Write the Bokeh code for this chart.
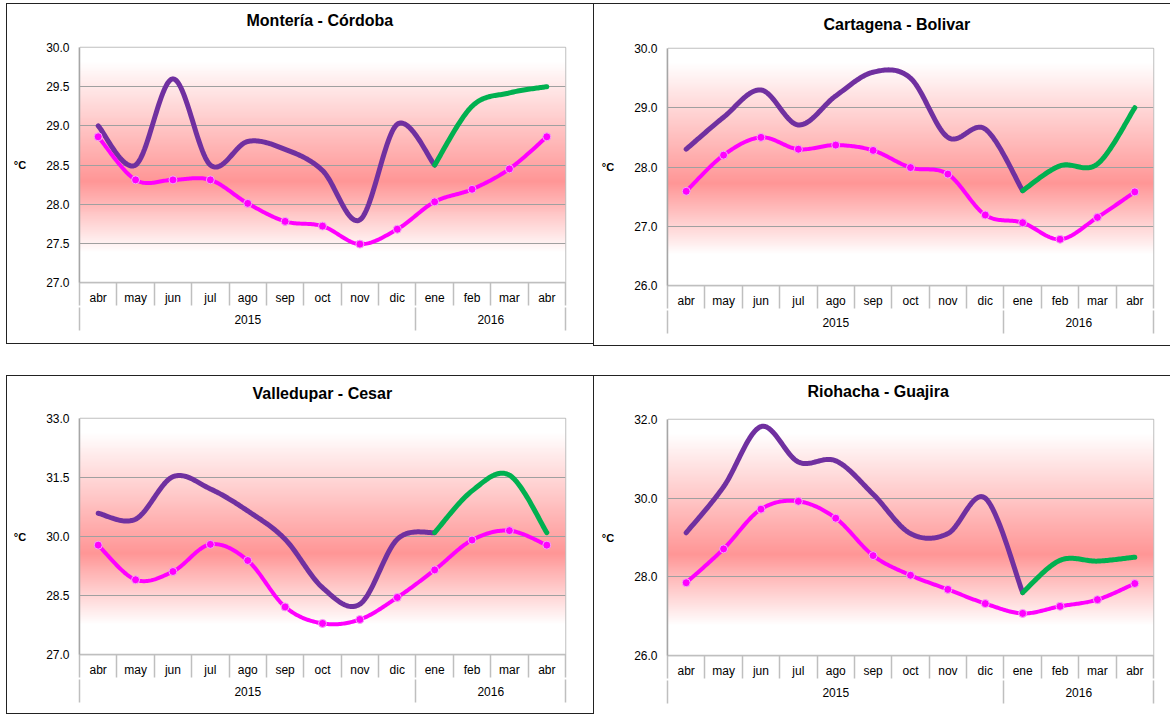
import numpy as np
from bokeh.plotting import figure
from bokeh.models import (Range1d, FixedTicker, LinearAxis, PrintfTickFormatter,
                          Spacer, Title)
from bokeh.layouts import row, column
from bokeh.embed import file_html
from bokeh.resources import INLINE

FONT = "Liberation Sans"

# ---------------- data ----------------
months = ["abr", "may", "jun", "jul", "ago", "sep", "oct", "nov", "dic",
          "ene", "feb", "mar", "abr"]
years = ["2015", "2016"]
year_sizes = [9, 4]

# Montería - Córdoba
monteria_max = [29.0, 28.5, 29.6, 28.5, 28.8, 28.7, 28.43, 27.8, 29.02, 28.5, 29.25, 29.42, 29.5]
monteria_mean = [28.86, 28.31, 28.31, 28.31, 28.01, 27.78, 27.72, 27.49, 27.68, 28.03, 28.19, 28.45, 28.86]
monteria_ticks = [27.0, 27.5, 28.0, 28.5, 29.0, 29.5, 30.0]

# Cartagena - Bolivar
cartagena_max = [28.3, 28.84, 29.3, 28.71, 29.2, 29.6, 29.5, 28.5, 28.64, 27.6, 28.02, 28.05, 29.0]
cartagena_mean = [27.59, 28.2, 28.5, 28.3, 28.37, 28.28, 27.99, 27.88, 27.19, 27.06, 26.78, 27.15, 27.58]
cartagena_ticks = [26.0, 27.0, 28.0, 29.0, 30.0]

# Valledupar - Cesar
valledupar_max = [30.59, 30.44, 31.52, 31.21, 30.65, 29.93, 28.7, 28.28, 29.93, 30.1, 31.16, 31.56, 30.1]
valledupar_mean = [29.78, 28.9, 29.11, 29.8, 29.39, 28.21, 27.79, 27.89, 28.45, 29.15, 29.91, 30.15, 29.78]
valledupar_ticks = [27.0, 28.5, 30.0, 31.5, 33.0]

# Riohacha - Guajira
riohacha_max = [29.12, 30.29, 31.82, 30.92, 30.95, 30.1, 29.1, 29.1, 30.0, 27.6, 28.42, 28.4, 28.5]
riohacha_mean = [27.85, 28.71, 29.72, 29.92, 29.49, 28.54, 28.04, 27.68, 27.32, 27.07, 27.25, 27.42, 27.83]
riohacha_ticks = [26.0, 28.0, 30.0, 32.0]

PURPLE = "#7030A0"
GREEN = "#00B050"
MAGENTA = "#FF00FF"
BORDER = "#222222"


def smooth(xv, yv, n=30):
    """Excel-like smoothed line (Catmull-Rom Bezier) through the points."""
    x = np.asarray(xv, float)
    y = np.asarray(yv, float)
    px = np.concatenate([[x[0]], x, [x[-1]]])
    py = np.concatenate([[y[0]], y, [y[-1]]])
    t = np.linspace(0, 1, n)
    ox, oy = [], []
    for i in range(len(x) - 1):
        x0, x1, x2, x3 = px[i:i + 4]
        y0, y1, y2, y3 = py[i:i + 4]
        c1x, c1y = x1 + (x2 - x0) / 6, y1 + (y2 - y0) / 6
        c2x, c2y = x2 - (x3 - x1) / 6, y2 - (y3 - y1) / 6
        b0 = (1 - t) ** 3
        b1 = 3 * (1 - t) ** 2 * t
        b2 = 3 * (1 - t) * t ** 2
        b3 = t ** 3
        tt = slice(0 if i == 0 else 1, None)
        ox.extend((b0 * x1 + b1 * c1x + b2 * c2x + b3 * x2)[tt])
        oy.extend((b0 * y1 + b1 * c1y + b2 * c2y + b3 * y2)[tt])
    return ox, oy


def gradient(rows=240):
    f = 1 - (np.arange(rows) + 0.5) / rows  # fraction from top
    w = np.interp(f, [0.0, 0.06, 0.57, 0.87, 1.0], [1.0, 1.0, 0.0, 1.0, 1.0])
    pink = np.array([255, 150, 150])
    img = np.empty((rows, 1), dtype=np.uint32)
    v = img.view(dtype=np.uint8).reshape((rows, 1, 4))
    for k in range(3):
        v[:, 0, k] = np.round(255 * w + pink[k] * (1 - w)).astype(np.uint8)
    v[:, 0, 3] = 255
    return img


def bar(w, h):
    return Spacer(width=w, height=h, styles={"background-color": BORDER})


def panel(title, tmax, tmean, yticks, width, height, bl, br, bt, bb,
          title_left, title_gap):
    n = len(months)
    ymin, ymax = yticks[0], yticks[-1]
    p = figure(width=width, height=height,
               x_range=Range1d(-0.5, n - 0.5), y_range=Range1d(ymin, ymax),
               output_backend="svg", toolbar_location=None,
               x_axis_location=None,
               min_border_left=bl, min_border_right=br,
               min_border_top=bt, min_border_bottom=bb)
    p.background_fill_color = "white"
    p.border_fill_color = "white"
    p.outline_line_color = "#BFBFBF"
    p.outline_line_width = 1.5
    for gr in p.xgrid:
        gr.grid_line_color = None
    p.title.text = ""
    p.title.visible = False

    # blank gap between the frame and the title (one white tick at the frame edge)
    spacer_ax = LinearAxis(ticker=FixedTicker(ticks=[-0.5]), axis_line_color=None,
                           major_tick_out=title_gap, major_tick_in=0,
                           minor_tick_out=0, minor_tick_in=0,
                           major_tick_line_color="white",
                           minor_tick_line_color=None,
                           major_label_overrides={-0.5: ""},
                           major_label_text_font_size="1px",
                           major_label_text_alpha=0,
                           major_label_standoff=0)
    p.add_layout(spacer_ax, "above")
    p.add_layout(Title(text=title, align="left", offset=title_left, standoff=4,
                       text_font=FONT, text_font_size="16px",
                       text_font_style="bold", text_color="black"), "above")

    # background gradient
    p.image_rgba(image=[gradient()], x=-0.5, y=ymin, dw=n, dh=ymax - ymin,
                 level="image")

    # y axis
    yax = p.yaxis[0]
    yax.ticker = FixedTicker(ticks=yticks)
    yax.formatter = PrintfTickFormatter(format="%.1f")
    yax.major_tick_out = 0
    yax.major_tick_in = 0
    yax.minor_tick_out = 0
    yax.minor_tick_in = 0
    yax.axis_line_color = "#A6A6A6"
    yax.axis_line_width = 1.5
    yax.major_label_standoff = 10
    yax.major_label_text_font = FONT
    yax.major_label_text_font_size = "12px"
    yax.major_label_text_color = "black"
    yax.axis_label = "°C"
    yax.axis_label_orientation = "horizontal"
    yax.axis_label_text_font = FONT
    yax.axis_label_text_font_size = "11px"
    yax.axis_label_text_font_style = "bold"
    yax.axis_label_text_color = "black"
    yax.axis_label_standoff = 17

    g = p.ygrid[0]
    g.ticker = FixedTicker(ticks=yticks)
    g.grid_line_color = "#A0A0A0"
    g.grid_line_width = 1

    # month axis
    ax_m = LinearAxis(
        ticker=FixedTicker(ticks=list(range(n)),
                           minor_ticks=[i - 0.5 for i in range(n + 1)]),
        major_label_overrides={i: m for i, m in enumerate(months)},
        major_tick_out=0, major_tick_in=0,
        minor_tick_out=23, minor_tick_in=0,
        minor_tick_line_color="#BFBFBF", minor_tick_line_width=1.5,
        axis_line_color="#BFBFBF", axis_line_width=1.5,
        major_label_standoff=-15,
        major_label_text_font=FONT, major_label_text_font_size="12px",
        major_label_text_color="black")
    p.add_layout(ax_m, "below")

    # year axis
    bounds = [-0.5]
    centers = []
    start = 0
    for s in year_sizes:
        centers.append(start + (s - 1) / 2)
        start += s
        bounds.append(start - 0.5)
    ax_y = LinearAxis(
        ticker=FixedTicker(ticks=centers, minor_ticks=bounds),
        major_label_overrides={c: yv for c, yv in zip(centers, years)},
        major_tick_out=0, major_tick_in=0,
        minor_tick_out=23, minor_tick_in=0,
        minor_tick_line_color="#BFBFBF", minor_tick_line_width=1.5,
        axis_line_color=None,
        major_label_standoff=-16,
        major_label_text_font=FONT, major_label_text_font_size="12px",
        major_label_text_color="black")
    p.add_layout(ax_y, "below")

    # lines
    split = year_sizes[0]
    xs = list(range(n))
    sx, sy = smooth(xs[:split + 1], tmax[:split + 1])
    p.line(sx, sy, line_color=PURPLE, line_width=5, line_cap="round", line_join="round")
    gx, gy = smooth(xs[split:], tmax[split:])
    p.line(gx, gy, line_color=GREEN, line_width=5, line_cap="round", line_join="round")
    mx, my = smooth(xs, tmean)
    p.line(mx, my, line_color=MAGENTA, line_width=4, line_cap="round", line_join="round")
    p.scatter(xs, tmean, size=8, fill_color=MAGENTA, line_color="#F4A6F4", line_width=1)
    return p


def boxed(p, width, height, bottom=True):
    parts = [bar(width + 1, 1), row(bar(1, height), p)]
    if bottom:
        parts.append(bar(width + 1, 1))
    return column(*parts)


p1 = panel("Montería - Córdoba", monteria_max, monteria_mean, monteria_ticks,
           586, 339, 72, 28, 43, 61, 167, 17)
p2 = panel("Cartagena - Bolivar", cartagena_max, cartagena_mean, cartagena_ticks,
           576, 341, 73, 17, 44, 60, 156, 14)
p3 = panel("Valledupar - Cesar", valledupar_max, valledupar_mean, valledupar_ticks,
           586, 337, 72, 28, 42, 59, 173, 15)
p4 = panel("Riohacha - Guajira", riohacha_max, riohacha_mean, riohacha_ticks,
           576, 338, 73, 17, 43, 59, 140, 18)

layout = column(Spacer(height=3),
                row(Spacer(width=6), boxed(p1, 586, 339), boxed(p2, 576, 341)),
                Spacer(height=29),
                row(Spacer(width=6), boxed(p3, 586, 337), boxed(p4, 576, 338, bottom=False)))
open("out.html", "w").write(file_html(layout, INLINE))
